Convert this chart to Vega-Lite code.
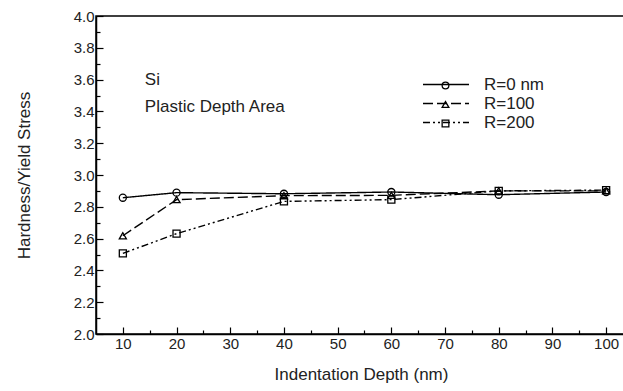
{
  "$schema": "https://vega.github.io/schema/vega-lite/v6.json",
  "width": 530,
  "height": 318,
  "autosize": "none",
  "padding": {"left": 96, "top": 16, "right": 0, "bottom": 57},
  "background": "white",
  "config": {
    "font": "Liberation Sans",
    "view": {"stroke": "black", "strokeWidth": 1.5},
    "axis": {"domainColor": "black", "domainWidth": 1.5, "tickColor": "black", "tickWidth": 1.2, "labelColor": "#222", "titleColor": "#222", "labelFont": "Liberation Sans", "titleFont": "Liberation Sans", "labelFontSize": 15, "titleFontSize": 17, "titleFontWeight": "normal", "grid": false}
  },
  "data": {"values": [
    {"depth": 10, "ratio": 2.857, "series": "R=0 nm"},
    {"depth": 20, "ratio": 2.889, "series": "R=0 nm"},
    {"depth": 40, "ratio": 2.882, "series": "R=0 nm"},
    {"depth": 60, "ratio": 2.893, "series": "R=0 nm"},
    {"depth": 80, "ratio": 2.876, "series": "R=0 nm"},
    {"depth": 100, "ratio": 2.893, "series": "R=0 nm"},
    {"depth": 10, "ratio": 2.618, "series": "R=100"},
    {"depth": 20, "ratio": 2.845, "series": "R=100"},
    {"depth": 40, "ratio": 2.870, "series": "R=100"},
    {"depth": 60, "ratio": 2.872, "series": "R=100"},
    {"depth": 80, "ratio": 2.900, "series": "R=100"},
    {"depth": 100, "ratio": 2.900, "series": "R=100"},
    {"depth": 10, "ratio": 2.507, "series": "R=200"},
    {"depth": 20, "ratio": 2.631, "series": "R=200"},
    {"depth": 40, "ratio": 2.834, "series": "R=200"},
    {"depth": 60, "ratio": 2.845, "series": "R=200"},
    {"depth": 80, "ratio": 2.900, "series": "R=200"},
    {"depth": 100, "ratio": 2.905, "series": "R=200"}
  ]},
  "encoding": {
    "x": {"field": "depth", "type": "quantitative",
      "scale": {"domain": [5, 103.7], "nice": false, "zero": false},
      "axis": {"title": "Indentation Depth (nm)", "values": [10,15,20,25,30,35,40,45,50,55,60,65,70,75,80,85,90,95,100],
        "labelExpr": "datum.value % 10 === 0 ? datum.label : ''",
        "tickSize": {"condition": {"test": "datum.value % 10 === 0", "value": -7}, "value": -4},
        "labelPadding": 9, "titlePadding": 15}},
    "y": {"field": "ratio", "type": "quantitative",
      "scale": {"domain": [2, 4], "nice": false, "zero": false},
      "axis": {"title": "Hardness/Yield Stress", "values": [2.0,2.1,2.2,2.3,2.4,2.5,2.6,2.7,2.8,2.9,3.0,3.1,3.2,3.3,3.4,3.5,3.6,3.7,3.8,3.9,4.0],
        "labelExpr": "round(datum.value*10) % 2 === 0 ? format(datum.value, '.1f') : ''",
        "tickSize": {"condition": {"test": "round(datum.value*10) % 2 === 0", "value": -7}, "value": -4},
        "labelPadding": 9, "titlePadding": 40}}
  },
  "layer": [
    {
      "mark": {"type": "line", "color": "black", "strokeWidth": 1.4},
      "encoding": {
        "strokeDash": {"field": "series", "type": "nominal",
          "scale": {"domain": ["R=0 nm", "R=100", "R=200"], "range": [[1, 0], [10, 4], [7, 3, 2, 3, 2, 3]]},
          "legend": {"title": null, "orient": "none", "legendX": 326, "legendY": 59, "padding": 0,
            "symbolType": "stroke", "symbolSize": 2116, "symbolStrokeColor": "black", "symbolStrokeWidth": 1.4,
            "clipHeight": 19, "rowPadding": 0, "labelOffset": 14, "labelFontSize": 17, "labelColor": "#222", "labelFont": "Liberation Sans"}}
      }
    },
    {
      "mark": {"type": "point", "filled": false, "stroke": "black", "strokeWidth": 1.3, "opacity": 1},
      "encoding": {
        "shape": {"field": "series", "type": "nominal",
          "scale": {"range": ["circle", "triangle-up", "square"]},
          "legend": {"title": null, "orient": "none", "legendX": 345, "legendY": 65, "padding": 0,
            "symbolSize": 45, "symbolStrokeColor": "black", "symbolStrokeWidth": 1.3,
            "rowPadding": 6, "labelExpr": "''", "labelFontSize": 1}},
        "size": {"value": 50}
      }
    },
    {
      "transform": [{"filter": "datum.depth === 10 && datum.series === 'R=0 nm'"}],
      "mark": {"type": "text", "text": "Si", "align": "left", "baseline": "middle", "fontSize": 17, "color": "#222", "font": "Liberation Sans"},
      "encoding": {"x": {"datum": 14.1}, "y": {"datum": 3.6}}
    },
    {
      "transform": [{"filter": "datum.depth === 10 && datum.series === 'R=0 nm'"}],
      "mark": {"type": "text", "text": "Plastic Depth Area", "align": "left", "baseline": "middle", "fontSize": 17, "color": "#222", "font": "Liberation Sans"},
      "encoding": {"x": {"datum": 14.1}, "y": {"datum": 3.43}}
    }
  ]
}
